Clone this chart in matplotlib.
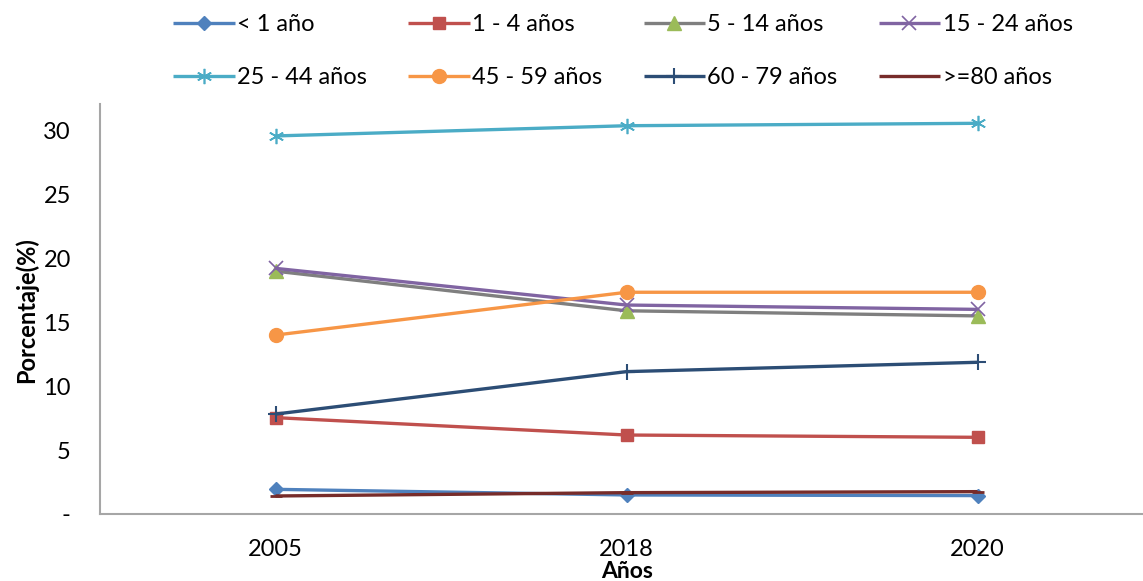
import matplotlib
matplotlib.use("Agg")
import matplotlib.pyplot as plt

plt.rcParams['font.family'] = ['Lato', 'DejaVu Sans']

years = ["2005", "2018", "2020"]
labels = ["< 1 año", "1 - 4 años", "5 - 14 años", "15 - 24 años",
          "25 - 44 años", "45 - 59 años", "60 - 79 años", ">=80 años"]
v_lt1 = [1.93, 1.49, 1.44]
v_1_4 = [7.54, 6.18, 6.00]
v_5_14 = [19.0, 15.9, 15.5]
v_15_24 = [19.22, 16.35, 16.01]
v_25_44 = [29.58, 30.38, 30.57]
v_45_59 = [14.0, 17.35, 17.35]
v_60_79 = [7.82, 11.14, 11.87]
v_80 = [1.41, 1.67, 1.75]
yticks = [0, 5, 10, 15, 20, 25, 30]
yticklabels = ["-", "5", "10", "15", "20", "25", "30"]

series = [v_lt1, v_1_4, v_5_14, v_15_24, v_25_44, v_45_59, v_60_79, v_80]
line_colors = ["#4F81BD", "#C0504D", "#7F7F7F", "#8064A2",
               "#4BACC6", "#F79646", "#2C4D75", "#772C2A"]
face_colors = ["#4F81BD", "#C0504D", "#9BBB59", "#8064A2",
               "#4BACC6", "#F79646", "#2C4D75", "#772C2A"]
asterisk = (6, 2, 0)
markers = ["D", "s", "^", "x", asterisk, "o", "+", "_"]
msizes = [7, 9, 10, 10, 11, 10, 12, 8]
mews = [1, 1, 1, 1.2, 1.2, 1, 1.5, 2]

W, H = 1143, 581
fig = plt.figure(figsize=(W / 100, H / 100), dpi=100)
ax = fig.add_axes([100 / W, 1 - 514 / H, (W - 100) / W, (514 - 104) / H])

x = list(range(len(years)))
handles = []
for vals, lab, lc, fc, mk, ms, mew in zip(series, labels, line_colors, face_colors, markers, msizes, mews):
    ln, = ax.plot(x, vals, color=lc, lw=2.4, marker=mk, markersize=ms,
                  markerfacecolor=fc, markeredgecolor=fc, markeredgewidth=mew,
                  label=lab, solid_capstyle='butt')
    handles.append(ln)

ax.set_xlim(-0.5, -0.5 + (W - 100) / 351.0)
ax.set_ylim(0, 32.08)
ax.set_xticks(x)
ax.set_xticklabels(years, fontsize=17)
ax.set_yticks(yticks)
ax.set_yticklabels(yticklabels, fontsize=17)
ax.tick_params(axis='both', length=0)
ax.tick_params(axis='y', pad=21)
ax.tick_params(axis='x', pad=18)
for s in ['top', 'right']:
    ax.spines[s].set_visible(False)
for s in ['left', 'bottom']:
    ax.spines[s].set_color('#A6A6A6')
    ax.spines[s].set_linewidth(1.5)

fig.text(627 / W, 1 - 571 / H, "Años", ha='center', va='center',
         fontsize=16.5, fontweight='bold')
fig.text(26 / W, 1 - 310 / H, "Porcentaje(%)", ha='center', va='center',
         rotation=90, fontsize=17, fontweight='bold')

order = [0, 4, 1, 5, 2, 6, 3, 7]
leg = fig.legend(handles=[handles[i] for i in order],
                 labels=[labels[i] for i in order], ncol=4, frameon=False,
                 loc='upper left', bbox_to_anchor=(164 / W, 1 - 5 / H),
                 fontsize=17, handlelength=2.6, handletextpad=0.1,
                 columnspacing=1.75, labelspacing=1.35, borderaxespad=0)

fig.savefig("out.png", dpi=100)
